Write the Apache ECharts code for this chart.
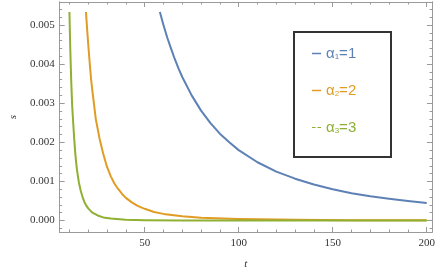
<!DOCTYPE html>
<html><head><meta charset="utf-8">
<script src="https://cdn.jsdelivr.net/npm/echarts@6/dist/echarts.min.js"></script>
<style>html,body{margin:0;padding:0;background:#fff}#c{width:438px;height:277px}</style>
</head><body><div id="c"></div>
<script>
// ---- data ----
const tBlue = [58.1, 60, 62, 64, 66, 68, 70, 75, 80, 85, 90, 95, 100, 110, 120, 130, 140, 150, 160, 170, 180, 190, 200];
const sBlue = [0.00533, 0.005, 0.00468, 0.0044, 0.00413, 0.00389, 0.00367, 0.0032, 0.00281, 0.00249, 0.00222, 0.002, 0.0018, 0.00149, 0.00125, 0.00107, 0.00092, 0.0008, 0.0007, 0.00062, 0.00056, 0.0005, 0.00045];
const tOrange = [18.8, 19.4, 20, 20.5, 21, 21.5, 22, 23, 24, 25, 26, 27, 28, 30, 32, 34, 36, 38, 40, 43, 46, 50, 55, 60, 70, 80, 100, 130, 160, 200];
const sOrange = [0.00533, 0.0049, 0.0045, 0.0042, 0.0039, 0.00362, 0.0034, 0.003, 0.0026, 0.00235, 0.0021, 0.0019, 0.0017, 0.00137, 0.00113, 0.00094, 0.0008, 0.00068, 0.00058, 0.00047, 0.00038, 0.0003, 0.00022, 0.00017, 0.00011, 0.00007, 0.00004, 0.00002, 0.00001, 0.000005];
const tGreen = [10, 10.25, 10.5, 10.75, 11, 11.5, 12, 12.5, 13, 13.5, 14, 15, 16, 17, 18, 19, 20, 22, 25, 28, 32, 40, 50, 70, 100, 200];
const sGreen = [0.00533, 0.0048, 0.0043, 0.0039, 0.0035, 0.0029, 0.0025, 0.00212, 0.00178, 0.00152, 0.0013, 0.00098, 0.00076, 0.0006, 0.00047, 0.00038, 0.00031, 0.00021, 0.00013, 0.00008, 0.00005, 0.00002, 0.00001, 0.000003, 0.000001, 0];
const seriesNames = ['α1=1', 'α2=2', 'α3=3'];
const xMajorTicks = [50, 100, 150, 200];
const xMinorTicks = [10, 20, 30, 40, 50, 60, 70, 80, 90, 100, 110, 120, 130, 140, 150, 160, 170, 180, 190, 200];
const yMajorTicks = [0, 0.001, 0.002, 0.003, 0.004, 0.005];
const yMinorTicks = [-0.0002, 0, 0.0002, 0.0004, 0.0006, 0.0008, 0.001, 0.0012, 0.0014, 0.0016, 0.0018, 0.002, 0.0022, 0.0024, 0.0026, 0.0028, 0.003, 0.0032, 0.0034, 0.0036, 0.0038, 0.004, 0.0042, 0.0044, 0.0046, 0.0048, 0.005, 0.0052, 0.0054];

const colors = ['#5E81B5', '#E19C24', '#8FB032'];
const frameColor = '#9a9a9a';
const xMin = 4.8, xMax = 202.8, yMin = -0.000293, yMax = 0.005587;
const serif = "'Liberation Serif', 'Times New Roman', serif";

function xAx(pos, major, labels, name) {
  return {
    type: 'value', position: pos, min: xMin, max: xMax,
    axisLine: {show: true, onZero: false, lineStyle: {color: frameColor, width: 1}},
    axisTick: {show: true, inside: true, length: major ? 5 : 2.5, customValues: major ? xMajorTicks : xMinorTicks, lineStyle: {color: frameColor}},
    axisLabel: {show: labels, customValues: xMajorTicks, margin: 6, color: '#333', fontFamily: serif, fontSize: 11},
    splitLine: {show: false},
    name: name || '', nameLocation: 'middle', nameGap: 27,
    nameTextStyle: {fontFamily: serif, fontStyle: 'italic', fontSize: 11, color: '#333'}
  };
}
function yAx(pos, major, labels, name) {
  return {
    type: 'value', position: pos, min: yMin, max: yMax,
    axisLine: {show: true, onZero: false, lineStyle: {color: frameColor, width: 1}},
    axisTick: {show: true, inside: true, length: major ? 5 : 2.5, customValues: major ? yMajorTicks : yMinorTicks, lineStyle: {color: frameColor}},
    axisLabel: {show: labels, customValues: yMajorTicks, margin: 5, color: '#333', fontFamily: serif, fontSize: 11,
      formatter: v => v.toFixed(3)},
    splitLine: {show: false},
    name: name || '', nameLocation: 'middle', nameGap: 38, nameRotate: 90,
    nameTextStyle: {fontFamily: serif, fontStyle: 'italic', fontSize: 11, color: '#333'}
  };
}
function zip(a, b) { return a.map((v, i) => [v, b[i]]); }
function legendFor(i, top, icon) {
  const sub = String(i + 1);
  return {
    data: [seriesNames[i]], left: 307, top: top, orient: 'vertical', selectedMode: false,
    icon: icon, itemWidth: 9, itemHeight: 1.5, itemGap: 4,
    formatter: () => '{a|α}{b|' + sub + '}{a|=' + sub + '}',
    textStyle: {color: colors[i], padding: [0, 0, 0, 0],
      rich: {a: {fontSize: 15, fontFamily: 'Liberation Sans', color: colors[i]},
             b: {fontSize: 8, fontFamily: 'Liberation Sans', color: colors[i], padding: [6, 0, 0, 0]}}}
  };
}

const chart = echarts.init(document.getElementById('c'), null, {renderer: 'canvas'});
chart.setOption({
  animation: false,
  grid: {left: 59, right: 6, top: 2, bottom: 45, containLabel: false},
  xAxis: [xAx('bottom', true, true, 't'), xAx('bottom', false, false), xAx('top', true, false), xAx('top', false, false)],
  yAxis: [yAx('left', true, true, 's'), yAx('left', false, false), yAx('right', true, false), yAx('right', false, false)],
  legend: [
    legendFor(0, 41, 'rect'),
    legendFor(1, 78, 'rect'),
    legendFor(2, 115, 'path://M0,0h4v1h-4z M6,0h4v1h-4z')
  ],
  graphic: [{type: 'rect', left: 293, top: 31, shape: {width: 97, height: 125}, style: {fill: '#fff', stroke: '#333', lineWidth: 2}, z: -1}],
  series: [
    {name: seriesNames[0], type: 'line', data: zip(tBlue, sBlue), color: colors[0]},
    {name: seriesNames[1], type: 'line', data: zip(tOrange, sOrange), color: colors[1]},
    {name: seriesNames[2], type: 'line', data: zip(tGreen, sGreen), color: colors[2]}
  ].map(s => Object.assign(s, {showSymbol: false, smooth: false, lineStyle: {width: 2, join: 'round'}, xAxisIndex: 0, yAxisIndex: 0, z: 3}))
});
</script></body></html>
